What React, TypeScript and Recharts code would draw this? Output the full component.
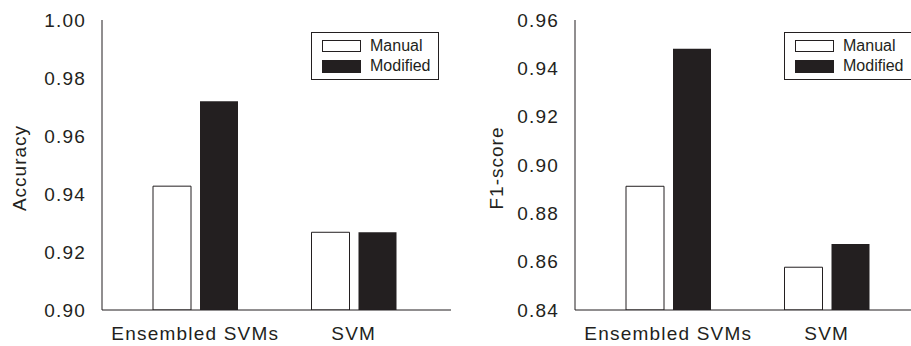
import React from 'react';
import { BarChart, Bar, XAxis, YAxis } from 'recharts';

const categories = ['Ensembled SVMs', 'SVM'];
const accuracyManual = [0.9427, 0.9268];
const accuracyModified = [0.972, 0.9268];
const f1Manual = [0.8912, 0.8577];
const f1Modified = [0.9481, 0.8673];
const accuracyTicks = [0.9, 0.92, 0.94, 0.96, 0.98, 1.0];
const f1Ticks = [0.84, 0.86, 0.88, 0.9, 0.92, 0.94, 0.96];
const seriesNames = ['Manual', 'Modified'];

const INK = '#231f20';
const FONT = '"Liberation Sans", Arial, Helvetica, sans-serif';

const LegendBox = () => (
  <div
    style={{
      position: 'absolute',
      left: 311,
      top: 32,
      border: `1px solid ${INK}`,
      width: 128,
      height: 48,
      boxSizing: 'border-box',
      background: '#fff',
      padding: '3px 0 0 10px',
      fontFamily: FONT,
      fontSize: 16,
      color: INK,
    }}
  >
    {seriesNames.map((n, i) => (
      <div key={n} style={{ display: 'flex', alignItems: 'center', height: 20 }}>
        <div
          style={{
            width: 39,
            height: i === 0 ? 12 : 13,
            boxSizing: 'border-box',
            border: `1px solid ${INK}`,
            background: i === 0 ? '#fff' : INK,
            marginRight: 9,
          }}
        />
        <span style={{ lineHeight: '16px' }}>{n}</span>
      </div>
    ))}
  </div>
);

const YTick = (props: any) => {
  const { x, y, payload } = props;
  return (
    <text
      x={x}
      y={y}
      dy="0.355em"
      textAnchor="end"
      fill={INK}
      fontSize={19}
      fontFamily={FONT}
      letterSpacing={1.2}
    >
      {Number(payload.value).toFixed(2)}
    </text>
  );
};

const XTick = (props: any) => {
  const { x, y, payload } = props;
  return (
    <text
      x={x}
      y={y}
      dy="0.71em"
      textAnchor="middle"
      fill={INK}
      fontSize={19}
      fontFamily={FONT}
      letterSpacing={1.2}
    >
      {payload.value}
    </text>
  );
};

type PanelProps = {
  manual: number[];
  modified: number[];
  ticks: number[];
  yLabel: string;
  labelX: number;
  left: number;
};

const Panel = ({ manual, modified, ticks, yLabel, labelX, left }: PanelProps) => {
  const data = categories.map((c, i) => ({ name: c, manual: manual[i], modified: modified[i] }));
  const domain = [ticks[0], ticks[ticks.length - 1]];
  return (
    <div style={{ position: 'absolute', left, top: 0, width: 460, height: 346 }}>
      <BarChart
        width={460}
        height={346}
        data={data}
        margin={{ top: 20, right: 9, bottom: 0, left: 0 }}
        barSize={38}
        barGap={9}
      >
        <XAxis
          dataKey="name"
          height={36}
          tickLine={false}
          tickSize={0}
          tickMargin={17}
          axisLine={{ stroke: INK, strokeWidth: 1 }}
          padding={{ left: 14, right: 18 }}
          tick={<XTick />}
          interval={0}
        />
        <XAxis
          xAxisId="top"
          dataKey="name"
          orientation="top"
          height={0}
          tick={false}
          tickLine={false}
          axisLine={{ stroke: INK, strokeWidth: 1 }}
        />
        <YAxis
          width={102}
          domain={domain}
          ticks={ticks}
          allowDataOverflow
          tickLine={false}
          tickSize={0}
          tickMargin={16}
          axisLine={{ stroke: INK, strokeWidth: 1 }}
          tick={<YTick />}
          label={(p: any) => {
            const vb = p.viewBox || {};
            const cy = (vb.y || 20) + (vb.height || 290) / 2 + 3;
            return (
              <text
                x={labelX}
                y={cy}
                transform={`rotate(-90, ${labelX}, ${cy})`}
                textAnchor="middle"
                fill={INK}
                fontSize={19}
                fontFamily={FONT}
                letterSpacing={1}
              >
                {yLabel}
              </text>
            );
          }}
        />
        <YAxis
          yAxisId="right"
          orientation="right"
          width={0}
          domain={domain}
          tick={false}
          tickLine={false}
          axisLine={{ stroke: INK, strokeWidth: 1 }}
        />
        <Bar dataKey="manual" name="Manual" fill="#ffffff" stroke={INK} strokeWidth={1} isAnimationActive={false} />
        <Bar dataKey="modified" name="Modified" fill={INK} isAnimationActive={false} />
      </BarChart>
      <LegendBox />
    </div>
  );
};

export default function App() {
  return (
    <div
      style={{
        position: 'absolute',
        left: 0,
        top: 0,
        width: 911,
        height: 346,
        overflow: 'hidden',
        background: '#fff',
      }}
    >
      <Panel manual={accuracyManual} modified={accuracyModified} ticks={accuracyTicks} yLabel="Accuracy" labelX={26} left={0} />
      <Panel manual={f1Manual} modified={f1Modified} ticks={f1Ticks} yLabel="F1-score" labelX={30} left={473} />
    </div>
  );
}
